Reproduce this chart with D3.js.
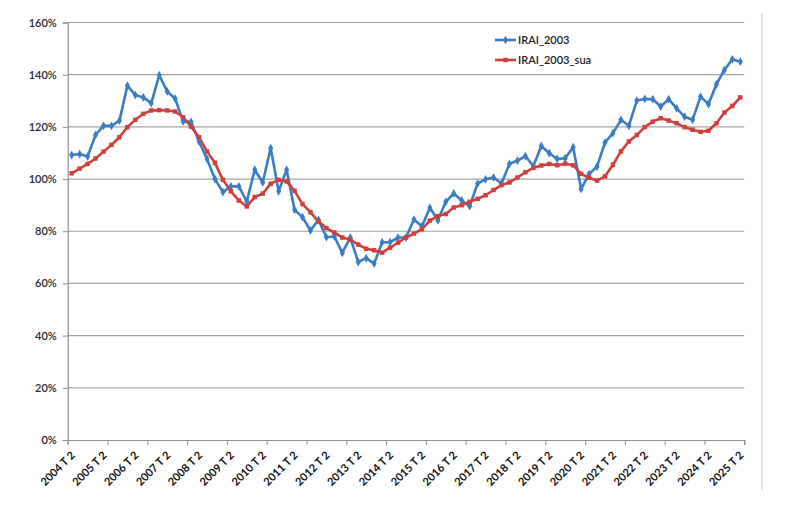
<!DOCTYPE html>
<html>
<head>
<meta charset="utf-8">
<script src="https://cdn.jsdelivr.net/npm/d3@7/dist/d3.min.js"></script>
<style>
  html, body { margin: 0; padding: 0; background: #fff; }
  svg { display: block; }
</style>
</head>
<body>
<svg id="chart" width="800" height="513"></svg>
<script>
(function () {
// ---- data ----
const quarters = [];
for (let yr = 2004; yr <= 2025; yr++) {
  for (let q = 1; q <= 4; q++) {
    if (yr === 2004 && q < 2) continue;
    if (yr === 2025 && q > 2) continue;
    quarters.push(yr + " T " + q);
  }
}
const seriesNames = ["IRAI_2003", "IRAI_2003_sua"];
const irai = [109.2,109.6,108.6,116.9,120.4,120.4,122.4,135.8,132.2,131.3,129.1,139.8,133.6,130.8,122.1,121.9,114.4,
  107.7,100.0,95.0,97.2,97.2,91.4,103.6,98.7,111.9,95.3,103.6,88.2,85.4,80.3,84.4,77.7,78.0,
  71.7,77.6,68.2,69.7,67.6,75.8,75.8,77.6,77.6,84.5,81.9,89.0,84.2,91.3,94.5,91.8,
  89.6,98.3,99.9,100.6,98.3,105.8,107.1,108.8,105.0,112.7,109.9,107.7,108.0,112.2,96.2,101.9,
  104.8,114.0,117.6,122.7,120.4,130.1,130.7,130.6,127.8,130.6,127.1,123.9,122.7,131.6,128.7,136.3,141.8,145.9,145.0];
const iraiSua = [102.2,104.0,105.8,107.9,110.5,113.1,116.0,119.9,122.7,125.0,126.3,126.4,126.3,125.9,123.7,120.1,116.0,
  110.6,106.2,99.7,95.3,91.8,89.5,93.1,94.4,98.2,99.7,99.1,95.5,90.4,87.3,83.7,81.2,79.5,
  77.6,76.8,74.9,73.3,72.7,71.8,73.7,75.6,77.6,79.1,80.8,84.1,85.8,86.6,89.1,90.0,
  91.3,92.4,93.8,95.8,97.7,98.7,100.6,102.6,104.3,105.2,105.8,105.3,105.9,105.3,102.0,100.5,
  99.4,101.0,105.5,110.6,114.4,116.9,119.9,122.0,123.3,122.4,121.4,119.9,118.9,118.1,118.5,121.4,125.5,128.0,131.3];
const yTicks = [0, 20, 40, 60, 80, 100, 120, 140, 160];
const labelEvery = 4;
const tickEvery = 5;

// ---- layout ----
const svg = d3.select("#chart");
const mLeft = 67.7, mRight = 744.3, mTop = 22.5, mBottom = 440;
const colors = ["#3A7DC4", "#CF3F3C"];

const x = d3.scaleBand().domain(quarters).range([mLeft, mRight]).padding(0);
const xTick = d3.scaleLinear().domain([0, quarters.length]).range([mLeft, mRight]);
const y = d3.scaleLinear().domain([0, 160]).range([mBottom, mTop]);
const cx = d => x(d) + x.bandwidth() / 2;

// gridlines
svg.append("g")
  .selectAll("line")
  .data(yTicks.filter(t => t > 0))
  .join("line")
  .attr("x1", mLeft).attr("x2", mRight)
  .attr("y1", d => y(d)).attr("y2", d => y(d))
  .attr("stroke", "#a3a3a3").attr("stroke-width", 1.2);

// right-side frame line
svg.append("line")
  .attr("x1", 762).attr("x2", 762).attr("y1", 13).attr("y2", 490)
  .attr("stroke", "#dcdcdc").attr("stroke-width", 1.5);

// y axis
const yAxis = svg.append("g")
  .attr("transform", `translate(${mLeft},0)`)
  .call(d3.axisLeft(y).tickValues(yTicks).tickFormat(d => d + "%").tickSize(5).tickPadding(6));
yAxis.select(".domain").attr("stroke", "#8e8e8e").attr("stroke-width", 1.2);
yAxis.selectAll(".tick line").attr("stroke", "#8e8e8e");
yAxis.selectAll("text")
  .attr("font-family", "Lato, 'Open Sans', sans-serif")
  .attr("font-size", 11).attr("font-weight", 600).attr("fill", "#2a2a2a");

// x axis tick marks (every 5 categories, on boundaries)
const xTicksG = svg.append("g")
  .attr("transform", `translate(0,${mBottom})`)
  .call(d3.axisBottom(xTick).tickValues(d3.range(0, quarters.length + 1, tickEvery)).tickSize(5).tickFormat(""));
xTicksG.select(".domain").attr("stroke", "#8e8e8e").attr("stroke-width", 1.2);
xTicksG.selectAll(".tick line").attr("stroke", "#8e8e8e");

// x axis labels (every 4 categories)
const xLab = svg.append("g")
  .attr("transform", `translate(0,${mBottom})`)
  .call(d3.axisBottom(x).tickValues(quarters.filter((d, i) => i % labelEvery === 0)).tickSize(0).tickFormat(d => d));
xLab.select(".domain").remove();
xLab.selectAll("text")
  .attr("font-family", "Lato, 'Open Sans', sans-serif")
  .attr("font-size", 11).attr("font-weight", 700).attr("fill", "#111")
  .attr("text-anchor", "end")
  .attr("dy", 0)
  .attr("y", 0)
  .attr("transform", "translate(4,16) rotate(-45)");

// lines
const line = d3.line().x((d, i) => cx(quarters[i])).y(d => y(d));
const allSeries = [irai, iraiSua];
allSeries.forEach((s, k) => {
  svg.append("path")
    .datum(s)
    .attr("fill", "none")
    .attr("stroke", colors[k])
    .attr("stroke-width", 2.6)
    .attr("stroke-linejoin", "round")
    .attr("d", line);
});

// markers
const diamond = d3.symbol().type(d3.symbolDiamond).size(22);
const square = d3.symbol().type(d3.symbolSquare).size(20);
svg.append("g").selectAll("path")
  .data(irai).join("path")
  .attr("d", diamond)
  .attr("transform", (d, i) => `translate(${cx(quarters[i])},${y(d)})`)
  .attr("fill", colors[0]);
svg.append("g").selectAll("path")
  .data(iraiSua).join("path")
  .attr("d", square)
  .attr("transform", (d, i) => `translate(${cx(quarters[i])},${y(d)})`)
  .attr("fill", colors[1]);

// legend
const lg = svg.append("g");
seriesNames.forEach((name, k) => {
  const ly = 40 + k * 20;
  lg.append("line").attr("x1", 495).attr("x2", 516).attr("y1", ly).attr("y2", ly)
    .attr("stroke", colors[k]).attr("stroke-width", 2.6);
  lg.append("path").attr("d", k === 0 ? diamond : square)
    .attr("transform", `translate(505.5,${ly})`).attr("fill", colors[k]);
  lg.append("text").attr("x", 518).attr("y", ly).attr("dy", "0.35em")
    .attr("font-family", "Lato, 'Open Sans', sans-serif")
    .attr("font-size", 11).attr("font-weight", 600).attr("fill", "#222")
    .text(name);
});
})();
</script>
</body>
</html>
